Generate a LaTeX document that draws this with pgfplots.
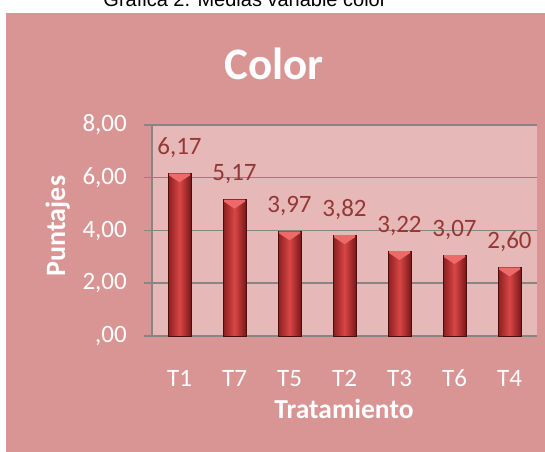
\documentclass[border=0pt]{standalone}
\usepackage{fontspec}
\setmainfont{Carlito}
\newfontfamily\capfont{Liberation Sans}
\usepackage{pgfplots}
\pgfplotsset{compat=1.18}
\definecolor{bgpink}{HTML}{D99594}
\definecolor{plotbg}{HTML}{E6B9B8}
\definecolor{gridgray}{HTML}{868686}
\definecolor{barDarkL}{HTML}{8A1F1F}
\definecolor{barDarkR}{HTML}{7A1818}
\definecolor{barMid}{HTML}{D94646}
\definecolor{barEdge}{HTML}{4A0E0E}
\definecolor{bevelc}{HTML}{EE6A6A}
\definecolor{labelRed}{HTML}{953735}
\newcommand\tl{\fontsize{25bp}{30bp}\selectfont}
\pgfdeclareplotmark{bevel}{%
  \pgfpathmoveto{\pgfqpoint{-10.5bp}{0bp}}%
  \pgfpathlineto{\pgfqpoint{10.5bp}{0bp}}%
  \pgfpathlineto{\pgfqpoint{10.5bp}{-2bp}}%
  \pgfpathlineto{\pgfqpoint{0bp}{-9bp}}%
  \pgfpathlineto{\pgfqpoint{-10.5bp}{-2bp}}%
  \pgfpathclose
  \pgfusepathqfill}
\pgfplotsset{
  mybar/.style={ybar, bar shift=0pt, bar width=23bp, draw=barEdge, line width=0.7bp,
    left color=barDarkL, right color=barDarkR, middle color=barMid,
    point meta=y,
    nodes near coords={\pgfmathprintnumber[fixed,fixed zerofill,precision=2,use comma,assume math mode=true]{\pgfplotspointmeta}},
    every node near coord/.append style={anchor=base, yshift=19bp, inner sep=0pt, text=labelRed, font=\tl}},
}
\begin{document}
\begin{tikzpicture}[x=1bp,y=1bp]
\useasboundingbox (0,0) rectangle (545,452);
\fill[white] (0,0) rectangle (545,452);
\fill[bgpink] (6,0) rectangle (545,439);
\node[anchor=base, inner sep=0pt, font=\capfont\fontsize{20bp}{24bp}\selectfont] at (245,445) {Gráfica 2. Medias variable color};
\node[anchor=base, inner sep=0pt, text=white, font=\bfseries\fontsize{45bp}{54bp}\selectfont] at (274,372) {Color};
\node[anchor=base, inner sep=0pt, rotate=90, text=white, font=\bfseries\fontsize{28bp}{32bp}\selectfont] at (65,226) {Puntajes};
\node[anchor=base, inner sep=0pt, text=white, font=\bfseries\fontsize{27.5bp}{32bp}\selectfont] at (344,33) {Tratamiento};
\begin{axis}[
  at={(152bp,116bp)}, anchor=south west,
  scale only axis, width=385bp, height=211bp,
  xmin=-0.5, xmax=6.5, ymin=0, ymax=8,
  clip=false,
  axis background/.style={fill=plotbg},
  separate axis lines,
  axis x line*=bottom, axis y line*=left,
  axis line style={draw=gridgray, line width=1.5bp},
  ymajorgrids, grid style={draw=gridgray, line width=1.5bp},
  xtick={0,1,2,3,4,5,6},
  xticklabels={T1,T7,T5,T2,T3,T6,T4},
  ytick={0,2,4,6,8},
  yticklabels={{,00},{2,00},{4,00},{6,00},{8,00}},
  tick align=outside,
  major tick length=8bp,
  xtick style={draw=none},
  ytick style={draw=gridgray, line width=1.5bp},
  ticklabel style={text=white, font=\tl, inner sep=0pt},
  xticklabel style={anchor=base, yshift=-43bp},
  yticklabel style={anchor=east, xshift=-17bp},
  /pgf/number format/assume math mode=true,
]
\addplot[mybar] coordinates {(0,6.17)};
\addplot[mybar] coordinates {(1,5.17)};
\addplot[mybar] coordinates {(2,3.97)};
\addplot[mybar] coordinates {(3,3.82)};
\addplot[mybar] coordinates {(4,3.22)};
\addplot[mybar] coordinates {(5,3.07)};
\addplot[mybar] coordinates {(6,2.60)};
\addplot[only marks, mark=bevel, color=bevelc] table {
x y
0 6.17
1 5.17
2 3.97
3 3.82
4 3.22
5 3.07
6 2.60
};
\end{axis}
\end{tikzpicture}
\end{document}
